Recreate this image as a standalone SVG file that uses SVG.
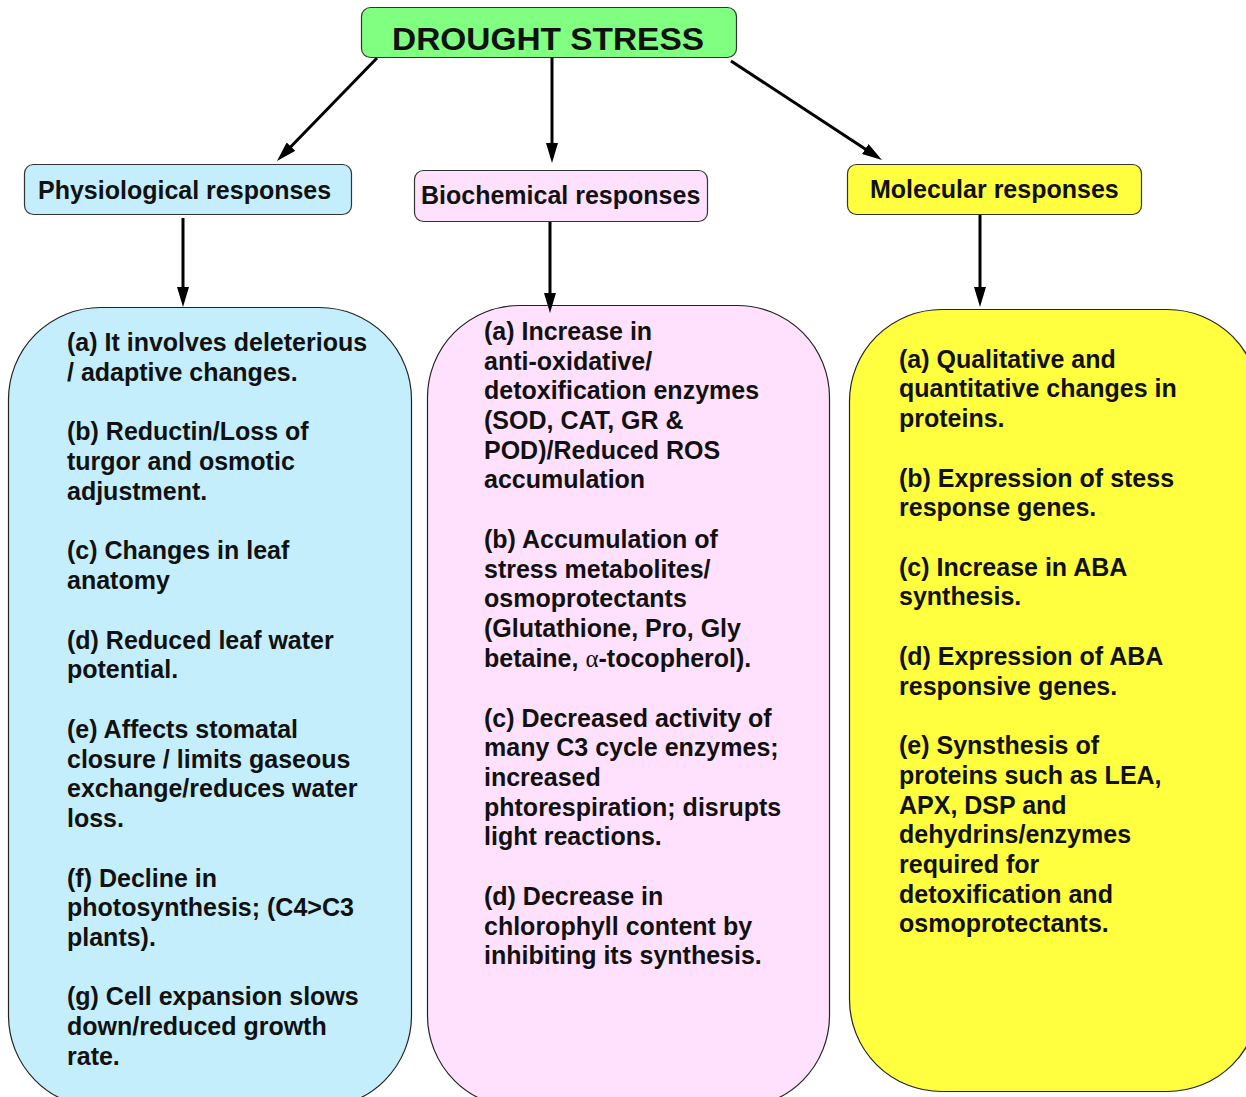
<svg xmlns="http://www.w3.org/2000/svg" width="1246" height="1097" viewBox="0 0 1246 1097">
<style>
  .t { font-family: "Liberation Sans", Arial, sans-serif; font-weight: bold; fill: #111; }
  .body { font-size: 25px; }
  .hdr { font-size: 25px; }
  .title { font-size: 32px; }
  .box { stroke: #333; stroke-width: 1.2; }
  .big { stroke: #222; stroke-width: 1.2; }
  .conn { stroke: #000; stroke-width: 3; fill: none; marker-end: url(#ah); }
  .wm { fill: #000; fill-opacity: 0.06; }
  .greek { font-family: "Liberation Serif", "DejaVu Serif", serif; font-weight: normal; }
</style>
<defs>
  <marker id="ah" viewBox="0 0 20 12" markerWidth="20" markerHeight="12" refX="10" refY="6" orient="auto" markerUnits="userSpaceOnUse">
    <path d="M0,0 L20,6 L0,12 Z" fill="#000"/>
  </marker>
</defs>
<rect width="1246" height="1097" fill="#fff"/>

<g id="node-drought">
  <rect class="box" x="361.5" y="7.5" width="375" height="50" rx="9" fill="#80FF80"/>
  <text class="t title" x="548" y="50" text-anchor="middle" textLength="312" lengthAdjust="spacingAndGlyphs">DROUGHT STRESS</text>
</g>

<g id="node-physio">
  <rect class="box" x="24.5" y="164.5" width="327" height="50" rx="9" fill="#C4EEFC"/>
  <text class="t hdr" x="38" y="199">Physiological responses</text>
</g>

<g id="node-biochem">
  <rect class="box" x="414.5" y="170.5" width="293" height="51" rx="9" fill="#FFE1FE"/>
  <text class="t hdr" x="421" y="204">Biochemical responses</text>
</g>

<g id="node-molec">
  <rect class="box" x="847.5" y="164.5" width="294" height="50" rx="9" fill="#FFFF40"/>
  <text class="t hdr" x="870" y="198">Molecular responses</text>
</g>

<g id="node-physio-list">
  <rect class="big" x="8.5" y="307.5" width="403" height="800" rx="92" ry="92" fill="#C4EEFC"/>
  <text class="t body">
    <tspan x="67" y="351">(a) It involves deleterious</tspan>
    <tspan x="67" y="381">/ adaptive changes.</tspan>
    <tspan x="67" y="440">(b) Reductin/Loss of</tspan>
    <tspan x="67" y="470">turgor and osmotic</tspan>
    <tspan x="67" y="500">adjustment.</tspan>
    <tspan x="67" y="559">(c) Changes in leaf</tspan>
    <tspan x="67" y="589">anatomy</tspan>
    <tspan x="67" y="649">(d) Reduced leaf water</tspan>
    <tspan x="67" y="678">potential.</tspan>
    <tspan x="67" y="738">(e) Affects stomatal</tspan>
    <tspan x="67" y="768">closure / limits gaseous</tspan>
    <tspan x="67" y="797">exchange/reduces water</tspan>
    <tspan x="67" y="827">loss.</tspan>
    <tspan x="67" y="887">(f) Decline in</tspan>
    <tspan x="67" y="916">photosynthesis; (C4&gt;C3</tspan>
    <tspan x="67" y="946">plants).</tspan>
    <tspan x="67" y="1005">(g) Cell expansion slows</tspan>
    <tspan x="67" y="1035">down/reduced growth</tspan>
    <tspan x="67" y="1065">rate.</tspan>
  </text>
</g>

<g id="node-biochem-list">
  <rect class="big" x="427.5" y="305.5" width="402" height="802" rx="92" ry="92" fill="#FFE1FE"/>
  <text class="t body">
    <tspan x="484" y="340">(a) Increase in</tspan>
    <tspan x="484" y="370">anti-oxidative/</tspan>
    <tspan x="484" y="399">detoxification enzymes</tspan>
    <tspan x="484" y="429">(SOD, CAT, GR &amp;</tspan>
    <tspan x="484" y="459">POD)/Reduced ROS</tspan>
    <tspan x="484" y="488">accumulation</tspan>
    <tspan x="484" y="548">(b) Accumulation of</tspan>
    <tspan x="484" y="578">stress metabolites/</tspan>
    <tspan x="484" y="607">osmoprotectants</tspan>
    <tspan x="484" y="637">(Glutathione, Pro, Gly</tspan>
    <tspan x="484" y="667">betaine, <tspan class="greek">α</tspan>-tocopherol).</tspan>
    <tspan x="484" y="727">(c) Decreased activity of</tspan>
    <tspan x="484" y="756">many C3 cycle enzymes;</tspan>
    <tspan x="484" y="786">increased</tspan>
    <tspan x="484" y="816">phtorespiration; disrupts</tspan>
    <tspan x="484" y="845">light reactions.</tspan>
    <tspan x="484" y="905">(d) Decrease in</tspan>
    <tspan x="484" y="935">chlorophyll content by</tspan>
    <tspan x="484" y="964">inhibiting its synthesis.</tspan>
  </text>
</g>

<g id="node-molec-list">
  <rect class="big" x="849.5" y="309.5" width="410" height="782" rx="92" ry="92" fill="#FFFF40"/>
  <text class="t body">
    <tspan x="899" y="368">(a) Qualitative and</tspan>
    <tspan x="899" y="397">quantitative changes in</tspan>
    <tspan x="899" y="427">proteins.</tspan>
    <tspan x="899" y="487">(b) Expression of stess</tspan>
    <tspan x="899" y="516">response genes.</tspan>
    <tspan x="899" y="576">(c) Increase in ABA</tspan>
    <tspan x="899" y="605">synthesis.</tspan>
    <tspan x="899" y="665">(d) Expression of ABA</tspan>
    <tspan x="899" y="695">responsive genes.</tspan>
    <tspan x="899" y="754">(e) Synsthesis of</tspan>
    <tspan x="899" y="784">proteins such as LEA,</tspan>
    <tspan x="899" y="814">APX, DSP and</tspan>
    <tspan x="899" y="843">dehydrins/enzymes</tspan>
    <tspan x="899" y="873">required for</tspan>
    <tspan x="899" y="903">detoxification and</tspan>
    <tspan x="899" y="932">osmoprotectants.</tspan>
  </text>
</g>

<g id="connectors">
  <line class="conn" x1="377" y1="58" x2="284" y2="153.8"/>
  <line class="conn" x1="552" y1="57" x2="552" y2="153"/>
  <line class="conn" x1="731" y1="61" x2="873.6" y2="154.5"/>
  <line class="conn" x1="183" y1="218" x2="183" y2="297"/>
  <line class="conn" x1="550" y1="222" x2="550" y2="303"/>
  <line class="conn" x1="980" y1="215" x2="980" y2="297"/>
</g>
</svg>
